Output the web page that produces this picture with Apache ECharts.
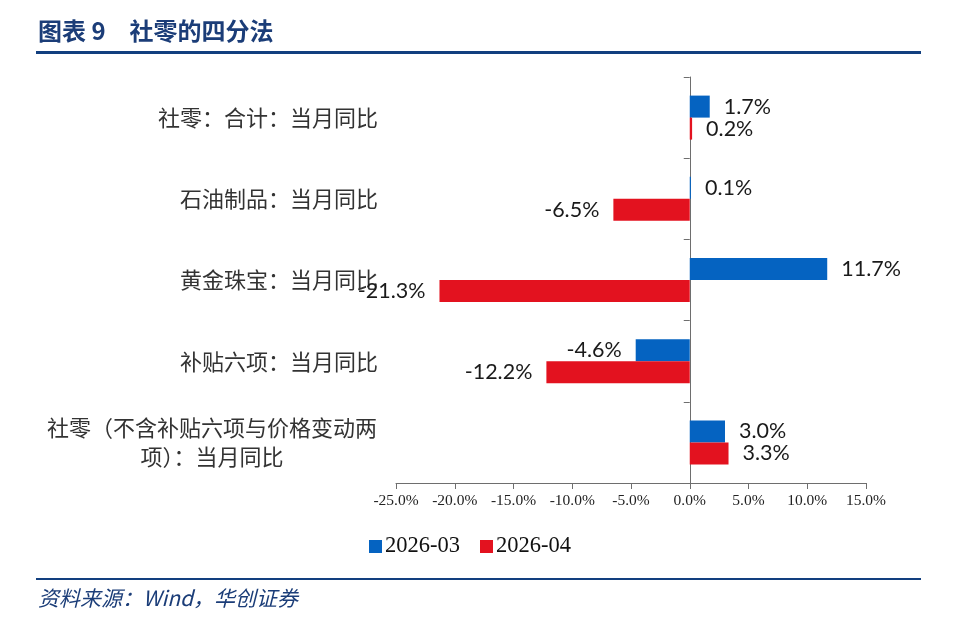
<!DOCTYPE html>
<html><head><meta charset="utf-8">
<script src="https://cdn.jsdelivr.net/npm/echarts@6/dist/echarts.min.js"></script>
<style>html,body{margin:0;padding:0;background:#fff}#c{width:960px;height:626px}</style>
</head><body><div id="c"></div>
<script>
var categories = ['社零：合计：当月同比','石油制品：当月同比','黄金珠宝：当月同比','补贴六项：当月同比','社零（不含补贴六项与价格变动两项）：当月同比'];
var seriesNames = ['2026-03','2026-04'];
var values0303 = [1.7, 0.1, 11.7, -4.6, 3.0];
var values0304 = [0.2, -6.5, -21.3, -12.2, 3.3];

var CJK = '"Noto Sans CJK SC", sans-serif';
var SERIF = '"Liberation Serif", "Times New Roman", serif';
var LBL = 'Lato, "Open Sans", sans-serif';

function mkLabel(){
  return {
    show: true,
    position: 'right',
    distance: 14,
    fontFamily: LBL,
    fontSize: 21.5,
    color: '#1a1a1a',
    formatter: function(p){ return p.value.toFixed(1) + '%'; }
  };
}
function mkData(arr){
  return arr.map(function(v){
    return { value: v, label: { position: v < 0 ? 'left' : 'right' } };
  });
}

var chart = echarts.init(document.getElementById('c'));
chart.setOption({
  animation: false,
  backgroundColor: '#fff',
  grid: { left: 396, right: 94, top: 77, bottom: 143, containLabel: false, outerBoundsMode: 'none' },
  legend: {
    data: seriesNames,
    left: 364, top: 530,
    icon: 'rect', itemWidth: 13, itemHeight: 13, itemGap: 20,
    textStyle: { fontFamily: SERIF, fontSize: 22.5, color: '#111', padding: [0,0,0,-2] }
  },
  xAxis: {
    type: 'value',
    min: -25, max: 15, interval: 5,
    axisLine: { show: true, onZero: false, lineStyle: { color: '#6e6e6e', width: 1 } },
    axisTick: { show: true, length: 6, lineStyle: { color: '#6e6e6e' } },
    splitLine: { show: false },
    axisLabel: {
      margin: 10,
      fontFamily: SERIF, fontSize: 15.5, color: '#222',
      formatter: function(v){ return v.toFixed(1) + '%'; }
    }
  },
  yAxis: {
    type: 'category',
    data: categories,
    inverse: true,
    position: 'left',
    axisLine: { show: true, onZero: true, lineStyle: { color: '#6e6e6e', width: 1 } },
    axisTick: { show: true, length: 6, lineStyle: { color: '#6e6e6e' } },
    axisLabel: {
      margin: 18,
      fontFamily: CJK, fontSize: 22, color: '#333',
      formatter: function(v){
        if (v.length > 15) {
          return '{w|' + v.slice(0, 15) + '}\n{w|' + v.slice(15) + '}';
        }
        return v;
      },
      rich: { w: { fontFamily: CJK, fontSize: 22, color: '#333', width: 332, align: 'center', lineHeight: 29 } }
    }
  },
  series: [{
    name: seriesNames[0], type: 'bar',
    data: mkData(values0303),
    barWidth: 22, barGap: '0%',
    itemStyle: { color: '#0563c1' },
    label: mkLabel()
  }, {
    name: seriesNames[1], type: 'bar',
    data: mkData(values0304),
    barWidth: 22, barGap: '0%',
    itemStyle: { color: '#e3121f' },
    label: mkLabel()
  }],
  graphic: [
    { type: 'text', left: 38, top: 19, style: { text: '图表 9　社零的四分法', font: 'bold 24px ' + CJK, fill: '#1b3d78' } },
    { type: 'rect', shape: { x: 36, y: 51, width: 885, height: 3 }, style: { fill: '#123f7f' } },
    { type: 'rect', shape: { x: 36, y: 578, width: 885, height: 2 }, style: { fill: '#123f7f' } },
    { type: 'text', left: 38, top: 588, style: { text: '资料来源：Wind，华创证券', font: 'italic 21px ' + CJK, fill: '#1b3d78' } }
  ]
});
</script></body></html>
